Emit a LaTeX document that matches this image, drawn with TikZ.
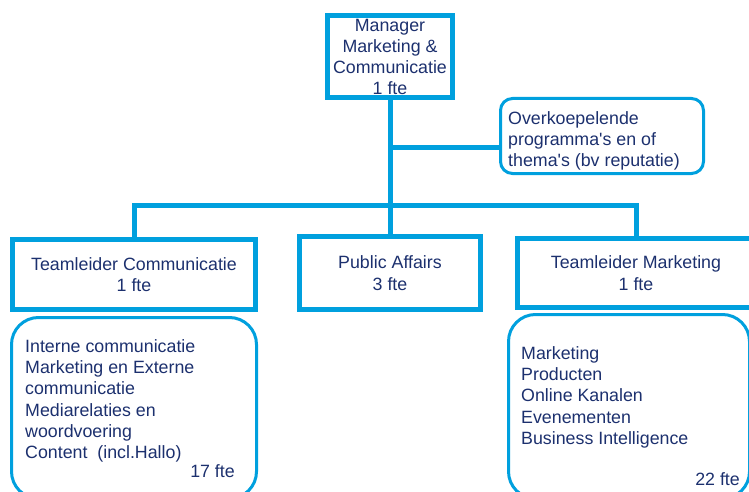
\documentclass[tikz,border=0pt]{standalone}
\usepackage{fontspec}
\setmainfont{Liberation Sans}
\definecolor{orgblue}{RGB}{0,160,222}
\definecolor{orgtext}{RGB}{28,48,110}

\begin{document}
\begin{tikzpicture}[
    x=1pt, y=-1pt,
    every node/.style={
        text=orgtext,
        font=\fontsize{17.8}{21.3}\selectfont,
        inner sep=0pt
    },
    box/.style={
        draw=orgblue,
        line width=5pt,
        align=center
    },
    roundbox/.style={
        draw=orgblue,
        line width=3pt,
        rounded corners=#1
    },
    conn/.style={
        draw=orgblue,
        line width=5pt
    }
]

% bounding box
\useasboundingbox (0,0) rectangle (749,492);
\clip (0,0) rectangle (749,492);

% boxes
\node[box, minimum width=125, minimum height=82] (mgr) at (390,57)
    {Manager\\Marketing \&\\Communicatie\\1 fte};
\node[roundbox=12, minimum width=203, minimum height=75] (over) at (602,136) {};
\node[anchor=north west, align=left] (overtext) at (508,111)
    {Overkoepelende\\programma\textquotesingle s en of\\thema\textquotesingle s (bv reputatie)};

\node[box, minimum width=243, minimum height=70] (tc) at (134,274.5)
    {Teamleider Communicatie\\1 fte};
\node[box, minimum width=181, minimum height=73] (pa) at (390,273)
    {Public Affairs\\3 fte};
\node[box, minimum width=237, minimum height=69] (tm) at (636,273)
    {Teamleider Marketing\\1 fte};

\node[roundbox=27, minimum width=245, minimum height=181] (tcsub) at (134,408) {};
\node[roundbox=27, minimum width=241, minimum height=184] (tmsub) at (629,406.5) {};

% lists
\node[anchor=north west, align=left] (tclist) at (25,339)
    {Interne communicatie\\Marketing en Externe\\communicatie\\Mediarelaties en\\woordvoering\\Content\ \ (incl.Hallo)};
\node[anchor=base east] (tcfte) at (235,477) {17 fte};

\node[anchor=north west, align=left] (tmlist) at (521,346)
    {Marketing\\Producten\\Online Kanalen\\Evenementen\\Business Intelligence};
\node[anchor=base east] (tmfte) at (740,485) {22 fte};

% lines
\coordinate (bus) at (390,205);
\coordinate (branch) at (390,147);
\draw[conn] (mgr.south) -- (pa.north);
\draw[conn] (tc.north) |- (bus) -| (tm.north);
\draw[conn] (branch) -- (over.west |- branch);

\end{tikzpicture}
\end{document}
